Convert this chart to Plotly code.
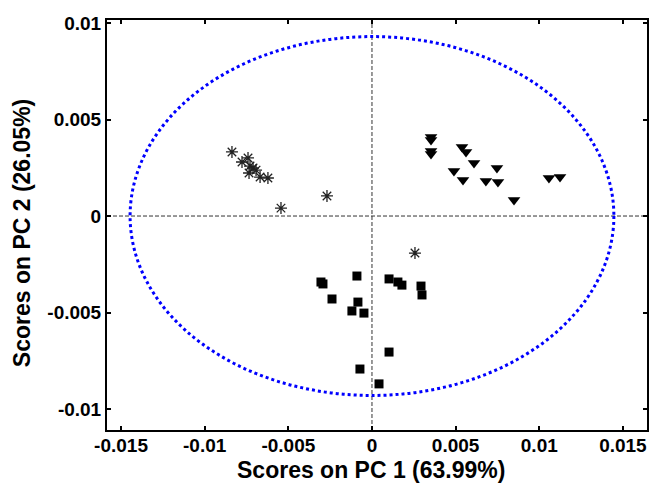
import plotly.graph_objects as go

# Group 1 (asterisks)
star_x = [-0.00837, -0.00777, -0.00741, -0.00729, -0.00711, -0.00735, -0.00693,
          -0.00669, -0.00622, -0.00269, -0.00544, 0.00257]
star_y = [0.00332, 0.00280, 0.00301, 0.00259, 0.00249, 0.00223, 0.00238,
          0.00202, 0.00197, 0.00104, 0.00041, -0.00192]

# Group 2 (down triangles)
tri_x = [0.00353, 0.00353, 0.00353, 0.00353, 0.00538, 0.00562, 0.00610, 0.00490,
         0.00544, 0.00681, 0.00747, 0.00753, 0.00849, 0.01058, 0.01124]
tri_y = [0.00409, 0.00394, 0.00337, 0.00321, 0.00358, 0.00332, 0.00275, 0.00233,
         0.00187, 0.00181, 0.00249, 0.00176, 0.00083, 0.00197, 0.00202]

# Group 3 (squares)
sq_x = [-0.00305, -0.00293, -0.00090, -0.00239, -0.00084, -0.00120, -0.00048,
        0.00102, 0.00155, 0.00179, 0.00293, 0.00299, 0.00102, -0.00072, 0.00042]
sq_y = [-0.00342, -0.00352, -0.00311, -0.00430, -0.00446, -0.00492, -0.00503,
        -0.00326, -0.00342, -0.00358, -0.00363, -0.00409, -0.00705, -0.00793, -0.00870]

# Confidence ellipse semi-axes
ell_a = 0.01446
ell_b = 0.00930

x_ticks = [-0.015, -0.01, -0.005, 0, 0.005, 0.01, 0.015]
x_ticktext = ["-0.015", "-0.01", "-0.005", "0", "0.005", "0.01", "0.015"]
y_ticks = [-0.01, -0.005, 0, 0.005, 0.01]
y_ticktext = ["-0.01", "-0.005", "0", "0.005", "0.01"]

x_title = "Scores on PC 1 (63.99%)"
y_title = "Scores on PC 2 (26.05%)"

x_range = [-0.01584, 0.01644]
y_range = [-0.01109, 0.01016]

fig = go.Figure()

fig.add_trace(go.Scatter(x=star_x, y=star_y, mode="markers",
                         marker=dict(symbol="asterisk-open", size=10, color="#222222",
                                     line=dict(color="#222222", width=1.3))))
fig.add_trace(go.Scatter(x=tri_x, y=tri_y, mode="markers",
                         marker=dict(symbol="triangle-down", size=11, color="black",
                                     line=dict(width=0))))
fig.add_trace(go.Scatter(x=sq_x, y=sq_y, mode="markers",
                         marker=dict(symbol="square", size=9, color="black",
                                     line=dict(width=0))))

fig.add_shape(type="circle", xref="x", yref="y", x0=-ell_a, x1=ell_a, y0=-ell_b, y1=ell_b,
              line=dict(color="#0000ff", width=3, dash="dot"), layer="below")
fig.add_shape(type="line", xref="x", yref="paper", x0=0, x1=0, y0=0, y1=1,
              line=dict(color="#333333", width=1, dash="4px,2px"), layer="below")
fig.add_shape(type="line", xref="paper", yref="y", x0=0, x1=1, y0=0, y1=0,
              line=dict(color="#333333", width=1, dash="4px,2px"), layer="below")

axis_font = dict(family="Liberation Sans", size=19, color="black")
title_font = dict(family="Liberation Sans", size=23, color="black")

# axis titles as annotations for precise placement
fig.add_annotation(text="<b>%s</b>" % x_title, xref="paper", yref="paper",
                   x=0.488, y=-0.1317, xanchor="center", yanchor="bottom",
                   showarrow=False, font=title_font, borderpad=0)
fig.add_annotation(text="<b>%s</b>" % y_title, xref="paper", yref="paper",
                   x=-0.1574, y=0.48, xanchor="center", yanchor="middle", textangle=-90,
                   showarrow=False, font=title_font)

fig.update_layout(
    width=650, height=484,
    margin=dict(l=107, r=3, t=20, b=54),
    plot_bgcolor="white", paper_bgcolor="white",
    showlegend=False,
    font=dict(family="Liberation Sans"),
    xaxis=dict(range=x_range, tickvals=x_ticks,
               ticktext=["<b>%s</b>" % t for t in x_ticktext],
               showgrid=False, zeroline=False, showline=True, linecolor="black",
               linewidth=2, mirror="ticks", ticks="inside", ticklen=4, tickwidth=1.5,
               tickcolor="black", automargin=False, ticklabelstandoff=-3,
               tickfont=axis_font),
    yaxis=dict(range=y_range, tickvals=y_ticks,
               ticktext=["<b>%s</b>" % t for t in y_ticktext],
               showgrid=False, zeroline=False, showline=True, linecolor="black",
               linewidth=2, mirror="ticks", ticks="inside", ticklen=4, tickwidth=1.5,
               tickcolor="black", automargin=False,
               tickfont=axis_font),
)

fig.write_html("out.html", config={"displayModeBar": False},
               post_script="document.body.style.margin='0';")
